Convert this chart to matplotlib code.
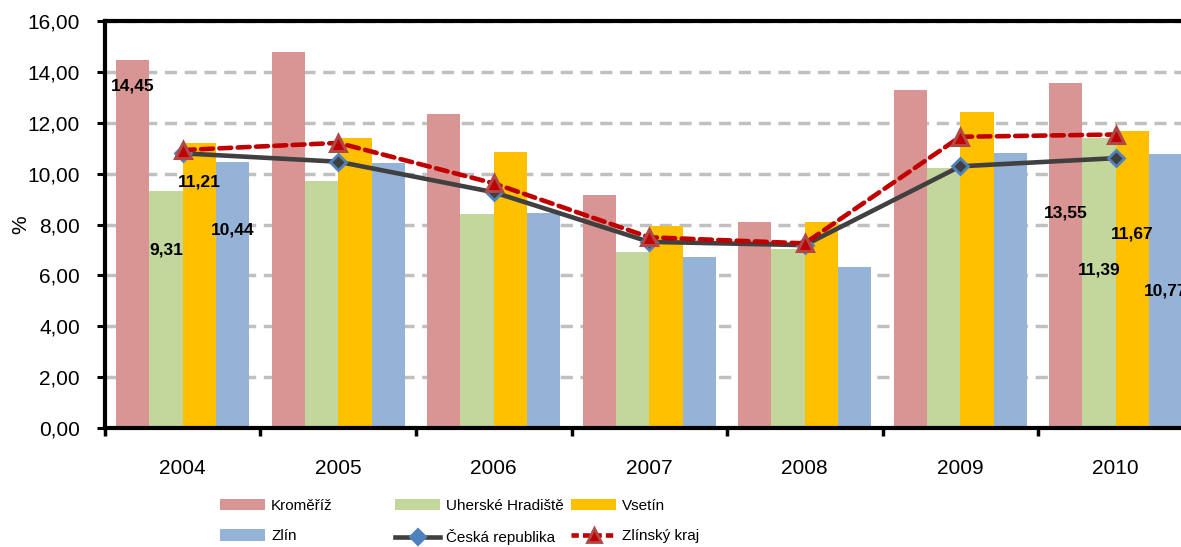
import numpy as np
import matplotlib
matplotlib.use("Agg")
import matplotlib.pyplot as plt
from matplotlib.ticker import FuncFormatter, MultipleLocator
from matplotlib.lines import Line2D
from matplotlib.patches import Patch

plt.rcParams["font.family"] = ["Liberation Sans", "DejaVu Sans"]

# data
years = ["2004", "2005", "2006", "2007", "2008", "2009", "2010"]
kromeriz = [14.45, 14.78, 12.33, 9.18, 8.11, 13.29, 13.55]
uh = [9.31, 9.72, 8.40, 6.92, 7.05, 10.22, 11.39]
vsetin = [11.21, 11.40, 10.85, 7.93, 8.11, 12.41, 11.67]
zlin = [10.44, 10.42, 8.45, 6.73, 6.33, 10.81, 10.77]
cr = [10.80, 10.47, 9.27, 7.32, 7.19, 10.29, 10.61]
zk = [10.93, 11.21, 9.62, 7.50, 7.26, 11.45, 11.54]

bar_series = [
    ("Kroměříž", kromeriz, "#D99594"),
    ("Uherské Hradiště", uh, "#C3D69B"),
    ("Vsetín", vsetin, "#FFC000"),
    ("Zlín", zlin, "#95B3D7"),
]

# label heights for the labelled years (2004 and 2010)
labels_2004_y = [13.44, 7.0, 9.67, 7.78]
labels_2010_y = [8.45, 6.21, 7.63, 5.39]

fig = plt.figure(figsize=(11.81, 5.47), dpi=100)
ax = fig.add_axes([0.0889, 0.2175, 0.9217, 0.744])

x = np.arange(len(years))
bw = 0.214
bar_handles = []
for k, (name, vals, col) in enumerate(bar_series):
    pos = x + (k - 1.5) * bw
    ax.bar(pos, vals, width=bw, color=col, edgecolor="none", zorder=2)
    bar_handles.append(Patch(facecolor=col, edgecolor="none", label=name))

    for yi, ly in ((0, labels_2004_y[k]), (6, labels_2010_y[k])):
        txt = f"{vals[yi]:.2f}".replace(".", ",")
        ax.text(pos[yi], ly, txt, ha="center", va="center", fontsize=12.5,
                fontweight="bold", color="black", zorder=6, clip_on=False)

ax.plot(x, cr, color="#404040", lw=3.3, marker="D", ms=8.5,
        markerfacecolor="#404040", markeredgecolor="#4F81BD", mew=2,
        zorder=4, solid_capstyle="round")
ax.plot(x, zk, color="#C00000", lw=3.3, dashes=(2.6, 1.4),
        dash_capstyle="round", marker="^", ms=11,
        markerfacecolor="#C00000", markeredgecolor="#B04848", mew=2.2,
        zorder=5)

ax.set_xlim(-0.5, 6.5)
ax.set_ylim(0, 16)
ax.yaxis.set_major_locator(MultipleLocator(2))
ax.yaxis.set_major_formatter(FuncFormatter(lambda v, p: f"{v:.2f}".replace(".", ",")))
ax.grid(axis="y", color="#C0C0C0", lw=2.5, dashes=(3.5, 2.2), zorder=1)
ax.set_axisbelow(True)

ax.set_xticks(x)
ax.set_xticklabels(years)
ax.set_xticks(np.arange(-0.5, 7, 1), minor=True)
ax.tick_params(axis="x", which="major", length=0, pad=22, labelsize=15)
ax.tick_params(axis="x", which="minor", length=6, width=2.5, direction="out")
ax.tick_params(axis="y", length=6, width=2.2, direction="out", pad=12, labelsize=15)

for s in ["left", "bottom", "top"]:
    ax.spines[s].set_linewidth(3)
    ax.spines[s].set_color("black")
ax.spines["right"].set_visible(False)

ax.set_ylabel("%", fontsize=15, labelpad=-2)

# legend in three columns
line_handles = [
    Line2D([], [], color="#404040", lw=3.3, marker="D", ms=8,
           markerfacecolor="#4F81BD", markeredgecolor="#4F81BD", mew=1.5,
           label="Česká republika"),
    Line2D([], [], color="#C00000", lw=3.3, dashes=(1.6, 0.9), marker="^", ms=10,
           markerfacecolor="#C00000", markeredgecolor="#B04848", mew=2,
           label="Zlínský kraj"),
]
cols = [
    [bar_handles[0], bar_handles[3]],
    [bar_handles[1], line_handles[0]],
    [bar_handles[2], line_handles[1]],
]
col_x = [220 / 1181, 395 / 1181, 571 / 1181]
for cx, hs in zip(col_x, cols):
    fig.legend(handles=hs, loc="upper left", bbox_to_anchor=(cx, 0.088),
               frameon=False, fontsize=11, handlelength=2.95, handleheight=0.78,
               handletextpad=0.4, labelspacing=1.08, borderpad=0,
               borderaxespad=0)

fig.savefig("out.png", dpi=100)
